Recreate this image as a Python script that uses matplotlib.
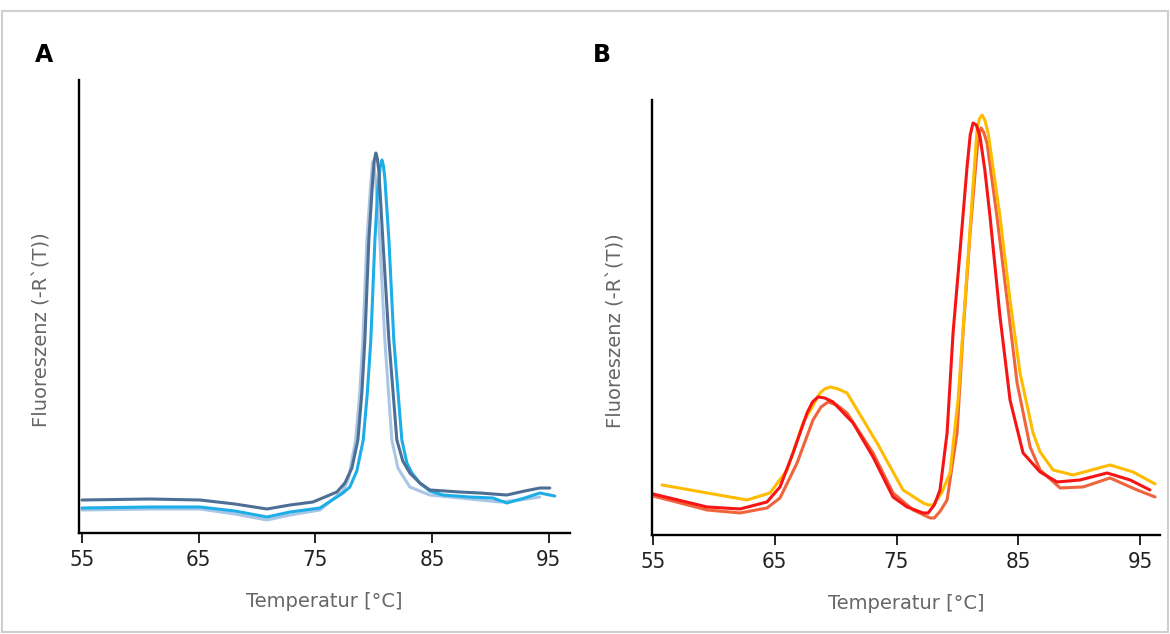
import matplotlib
matplotlib.use("Agg")
import matplotlib.pyplot as plt
from matplotlib.patches import Rectangle

# Panel A: melt curves (temperature in °C, relative fluorescence height)
a_dark_t = [55.0, 60.82, 65.11, 68.10, 70.85, 72.82, 74.79, 76.84, 77.53, 78.13, 78.64, 78.98,
            79.24, 79.58, 79.92, 80.05, 80.18, 80.30, 80.44, 80.78, 81.30, 81.98, 82.49, 83.09,
            83.95, 84.81, 87.38, 89.09, 91.40, 92.94, 94.23, 95.09]
a_dark_h = [33, 34, 33, 29, 24, 28, 31, 41, 50, 65, 93, 140,
            193, 293, 355, 373, 380, 375, 362, 293, 193, 93, 72, 60,
            50, 43, 41, 40, 38, 42, 45, 45]

a_bright_t = [55.0, 60.82, 65.11, 68.10, 70.85, 72.82, 75.39, 77.36, 77.95, 78.55, 79.10, 79.45,
              79.75, 80.10, 80.35, 80.55, 80.70, 80.82, 80.95, 81.30, 81.72, 82.41, 82.84, 83.27,
              83.95, 84.81, 85.92, 88.23, 90.20, 91.40, 92.94, 94.23, 95.51]
a_bright_h = [25, 26, 26, 22, 16, 21, 25, 40, 46, 62, 93, 140,
              193, 293, 345, 366, 373, 368, 355, 293, 193, 93, 70, 60,
              50, 42, 38, 36, 35, 30, 35, 40, 37]

a_light_t = [55.0, 60.82, 65.11, 68.10, 70.85, 72.82, 75.39, 77.36, 77.85, 78.45, 78.80, 79.07,
             79.41, 79.75, 79.90, 80.02, 80.15, 80.52, 80.95, 81.55, 82.07, 83.09, 84.81, 87.38,
             90.80, 92.52, 94.23]
a_light_h = [23, 24, 24, 19, 13, 18, 23, 42, 55, 93, 140, 193,
             293, 350, 371, 366, 355, 293, 193, 93, 65, 46, 38, 35,
             31, 33, 36]

# Panel B
b_red_t = [55.0, 59.44, 62.15, 64.36, 65.43, 66.50, 67.65, 68.10, 68.55, 69.10, 69.78, 71.43,
           73.07, 74.71, 75.86, 77.18, 77.60, 78.10, 78.57, 79.15, 79.64, 80.22, 80.79, 81.05,
           81.28, 81.55, 81.86, 82.25, 82.68, 83.50, 84.32, 85.39, 86.79, 88.18, 90.07, 92.29,
           94.18, 95.81]
b_red_h = [41, 28, 26, 33, 48, 82, 122, 133, 138, 137, 133, 112,
           78, 38, 28, 22, 22, 30, 45, 102, 202, 285, 368, 400,
           412, 410, 398, 365, 318, 218, 135, 82, 63, 53, 55, 62,
           55, 45]

b_coral_t = [55.0, 59.44, 62.15, 64.36, 65.43, 66.83, 68.14, 68.80, 69.37, 70.10, 70.93, 73.07,
             74.71, 76.36, 77.75, 78.10, 78.60, 79.15, 79.97, 80.46, 81.04, 81.61, 81.80, 81.94,
             82.15, 82.43, 83.25, 84.08, 84.90, 85.97, 86.79, 88.43, 90.32, 92.53, 94.75, 96.23]
b_coral_h = [39, 25, 22, 27, 37, 72, 115, 128, 133, 130, 122, 82,
             42, 25, 17, 17, 24, 35, 102, 202, 302, 385, 402, 407,
             403, 392, 318, 235, 152, 88, 65, 47, 48, 57, 45, 38]

b_yellow_t = [55.74, 59.44, 62.72, 64.61, 66.01, 67.32, 68.72, 69.10, 69.54, 70.20, 70.93, 73.40,
              75.53, 77.18, 77.60, 78.00, 78.70, 79.39, 80.05, 80.63, 81.20, 81.61, 81.80, 82.02,
              82.25, 82.52, 83.50, 84.32, 85.14, 86.21, 86.79, 87.85, 89.50, 92.53, 94.42, 96.23]
b_yellow_h = [50, 42, 35, 42, 65, 112, 142, 146, 148, 146, 142, 92,
              45, 32, 30, 30, 42, 62, 135, 235, 335, 405, 416, 420,
              415, 402, 318, 235, 162, 102, 83, 65, 60, 70, 63, 51]

xticks = [55, 65, 75, 85, 95]
xlabel = "Temperatur [°C]"
ylabel = "Fluoreszenz (-R`(T))"

label_font = ["DejaVu Sans"]


def style_axes(ax, xlim, ylim, ylab_x, ylab_y):
    ax.set_xlim(*xlim)
    ax.set_ylim(*ylim)
    for s in ("top", "right"):
        ax.spines[s].set_visible(False)
    for s in ("left", "bottom"):
        ax.spines[s].set_linewidth(1.7)
        ax.spines[s].set_color("black")
    ax.set_xticks(xticks)
    ax.set_xticklabels([str(t) for t in xticks], family="DejaVu Sans", stretch="condensed",
                       fontsize=16, color="#222222")
    ax.tick_params(axis="x", direction="out", length=7, width=1.2, pad=5)
    ax.set_yticks([])
    ax.set_xlabel(xlabel, family=label_font, fontsize=14, color="#666666", labelpad=16)
    ax.set_ylabel(ylabel, family=label_font, fontsize=14, color="#666666")
    ax.yaxis.set_label_coords(ylab_x, ylab_y)


fig = plt.figure(figsize=(11.7, 6.34), dpi=100)

axA = fig.add_axes([0.0675, 0.1593, 0.4195, 0.7145])
axA.plot(a_light_t, a_light_h, color="#a9c6e4", lw=2.2, solid_capstyle="round")
axA.plot(a_bright_t, a_bright_h, color="#1daee8", lw=2.2, solid_capstyle="round")
axA.plot(a_dark_t, a_dark_h, color="#4d6f95", lw=2.2, solid_capstyle="round")
style_axes(axA, (54.74, 96.8), (0, 453), -0.055, 0.45)

axB = fig.add_axes([0.5573, 0.1562, 0.4342, 0.6861])
axB.plot(b_coral_t, b_coral_h, color="#f0643c", lw=2.2, solid_capstyle="round")
axB.plot(b_yellow_t, b_yellow_h, color="#ffbb00", lw=2.2, solid_capstyle="round")
axB.plot(b_red_t, b_red_h, color="#f71414", lw=2.2, solid_capstyle="round")
style_axes(axB, (54.92, 96.64), (0, 435), -0.053, 0.47)

fig.text(35 / 1170, 1 - 62 / 634, "A", fontsize=17, fontweight="bold", family=label_font)
fig.text(593 / 1170, 1 - 62 / 634, "B", fontsize=17, fontweight="bold", family=label_font)

fig.patches.append(Rectangle((0.002, 0.003), 0.996, 0.98, transform=fig.transFigure,
                             fill=False, edgecolor="#cfcfcf", lw=1.5))

fig.savefig("out.png", dpi=100)
